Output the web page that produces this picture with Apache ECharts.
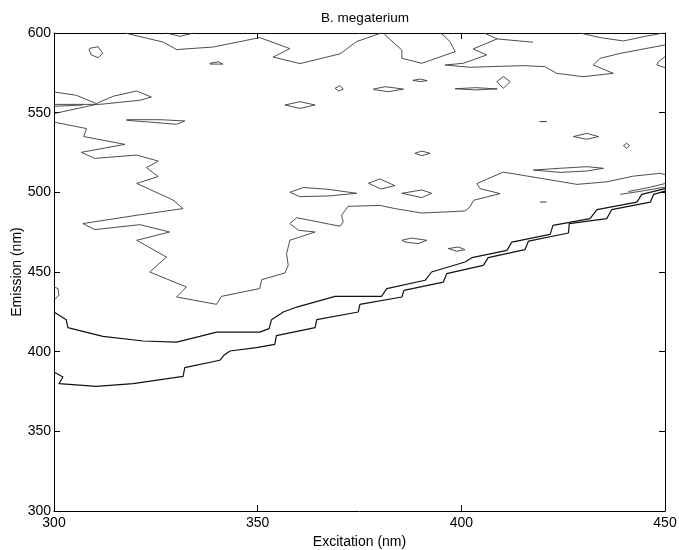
<!DOCTYPE html>
<html>
<head>
<meta charset="utf-8">
<script src="https://cdn.jsdelivr.net/npm/echarts@6/dist/echarts.min.js"></script>
<style>html,body{margin:0;padding:0;background:#fff}#c{width:679px;height:550px}</style>
</head>
<body>
<div id="c"></div>
<script>
// Axis ticks (nm)
const excitationTicks = [300, 350, 400, 450];
const emissionTicks = [300, 350, 400, 450, 500, 550, 600];

// Contour lines: [excitation nm, emission nm]
const contourA = [[300,387.2],[302.2,384.1],[301.2,379.9],[310.4,378.2],[319.4,379.9],[331.7,384.5],[332.1,390.0],[340.7,394.6],[341.7,397.7],[343.2,400.4],[349.7,402.5],[354.2,404.6],[354.6,410.1],[364.1,415.1],[364.5,420.1],[374.7,424.9],[375.1,429.7],[385.4,434.3],[385.9,438.5],[395.6,443.7],[396.4,449.0],[405.4,454.2],[406.6,459.0],[415.6,464.0],[416.5,469.4],[426.3,474.5],[426.5,480.4],[435.7,483.5],[436.9,489.1],[446.4,493.9],[447.2,498.7],[450,500.8]];
const contourB = [[300,424.9],[303.0,420.1],[303.4,415.1],[312.0,409.6],[321.9,406.7],[330.1,406.0],[335.8,409.6],[339.9,412.3],[350.5,412.3],[352.8,414.5],[353.4,420.1],[356.3,424.9],[359.6,428.0],[369.0,434.7],[380.4,434.7],[381.7,439.6],[391.1,444.8],[392.7,450.0],[400.9,456.3],[402.6,459.0],[411.2,463.6],[412.4,468.8],[421.8,473.6],[422.5,479.3],[431.6,483.5],[433.3,489.1],[443.1,493.9],[444.3,498.7],[450,502.3]];
const contourC = [[300,544.1],[308.0,540.0],[307.3,535.0],[317.4,530.1],[306.7,525.1],[310.0,521.3],[320.3,523.4],[325.6,519.6],[322.7,515.5],[325.6,509.9],[320.3,505.6],[329.2,495.2],[331.7,489.8],[320.3,485.6],[307.1,480.4],[310.0,476.6],[321.1,479.7],[328.4,475.1],[320.3,469.9],[327.6,459.4],[323.5,450.0],[332.5,440.6],[330.1,434.3],[339.9,429.7],[341.1,434.7],[350.5,439.6],[351.0,445.2],[356.7,449.4],[357.5,454.2],[357.1,461.5],[357.9,469.9],[364.1,475.1],[360.0,476.2],[357.9,480.4],[359.6,484.1],[370.2,478.7],[371.0,481.4],[370.6,485.6],[372.2,491.2],[380.0,491.8],[383.7,489.8],[390.3,487.0],[400.9,488.3],[402.1,490.8],[403.0,495.0],[409.5,499.2],[404.6,502.3],[403.8,505.5],[410.3,512.7],[420.2,508.5],[428.4,505.0],[435.7,506.6],[442.3,510.2],[448.8,511.9],[450,511.2]];
const contourD1 = [[317.4,600],[326.8,594.3],[330.1,589.6],[339.1,591.2],[350.5,597.1],[357.9,590.2],[353.8,584.9],[360.4,580.8],[370.2,586.9],[374.3,594.6],[378.4,598.3],[380.4,600]];
const contourD2 = [[381.3,600],[381.3,598.7],[385.4,589.3],[385.4,584.1],[390.3,581.0],[398.5,588.3],[397.2,594.6],[395.6,598.7],[394.8,600]];
const contourD3 = [[405.6,600],[408.8,596.3],[402.9,590.0],[406.2,586.2],[400.5,581.0],[396.0,579.9],[402.1,578.5],[409.5,579.1],[415.2,579.5],[420.5,578.9],[423.4,574.7],[429.9,572.6],[437.3,574.7],[432.4,579.9],[434.1,584.1],[439.0,587.2],[450,592.5]];
const contourD4 = [[408.8,596.3],[417.6,594.2]];
const contourD5 = [[429.2,600],[434.1,597.1],[439.8,595.0],[444.7,597.7],[449.6,600]];
const contourD6 = [[327.6,600],[330.9,597.9],[334.2,600]];
const contourD7 = [[450,585.2],[448.4,582.0],[448.0,579.9],[450,578.3]];
const contourE1 = [[300,563.0],[305.5,560.9],[310.4,555.7],[314.5,560.3],[320.3,563.6],[323.9,559.8],[321.1,557.8],[311.2,555.2],[300,555.2]];
const contourE2 = [[300,549.4],[310.4,555.2]];
const contourE3 = [[300,554.0],[307.1,554.8]];
const contourEdge = [[300,440.6],[301.0,439.6],[301.2,435.4],[300,432.2]];
const contourR1 = [[439.0,498.7],[445.6,501.3],[450,503.3]];
const contourR2 = [[441.0,500.5],[446.0,503.0],[450,505.5]];
// Small closed islands
const islands = [
  [[308.8,590.4],[310.8,591.4],[312.0,587.2],[310.8,584.5],[309.2,586.2],[308.6,589.3]],
  [[338.3,581.0],[340.3,582.0],[341.5,580.5],[338.3,580.5]],
  [[317.8,545.6],[326.0,545.6],[332.1,544.8],[330.1,542.7],[323.5,544.1],[317.8,545.2]],
  [[369.0,565.3],[370.2,567.0],[371.0,564.8],[369.9,563.6]],
  [[378.4,564.8],[381.3,566.3],[385.8,564.8],[382.1,563.2],[378.4,564.5]],
  [[356.7,554.8],[360.4,556.9],[364.1,554.8],[360.4,552.7]],
  [[388.1,570.3],[389.9,571.1],[391.6,570.1],[389.9,569.5]],
  [[398.5,565.0],[403.5,565.7],[408.8,564.9],[403.5,564.3]],
  [[408.7,569.5],[410.3,572.6],[412.0,569.5],[410.3,565.3]],
  [[388.6,524.5],[390.3,525.9],[392.3,524.5],[390.3,523.0]],
  [[357.9,500.0],[361.2,503.0],[367.3,501.9],[374.3,499.4],[367.3,497.7],[360.4,497.3]],
  [[377.2,505.7],[380.0,508.4],[383.7,504.2],[380.3,502.1]],
  [[385.4,499.4],[390.3,501.5],[392.7,499.4],[390.3,496.7]],
  [[385.4,469.9],[387.8,471.3],[391.5,469.9],[389.4,467.8],[386.2,468.8]],
  [[396.8,464.7],[399.3,465.7],[400.9,464.0],[398.9,463.0]],
  [[427.5,535.0],[430.8,537.0],[433.7,535.0],[430.8,533.3]],
  [[439.8,529.3],[440.6,530.8],[441.3,529.3],[440.6,527.6]],
  [[417.7,514.0],[424.3,515.1],[430.8,516.1],[434.9,515.1],[430.8,513.4],[424.3,512.5]]
];
const dashes = [
  [[419.2,544.4],[421.0,544.4]],
  [[419.3,493.9],[420.9,493.9]]
];

const dark = [contourA, contourB];
const mid = [contourC, contourD1, contourD2, contourD3, contourD4, contourD5, contourD6, contourD7,
  contourE1, contourE2, contourE3, contourEdge, contourR1, contourR2];

function closeLoop(pts){ return pts.concat([pts[0]]); }

const series = [];
function addLine(pts, color, width){
  series.push({type:'line', data: pts, showSymbol:false, symbol:'none', smooth:false,
    lineStyle:{color:color, width:width}, silent:true, animation:false, clip:true});
}
dark.forEach(p => addLine(p, '#111', 1.2));
mid.forEach(p => addLine(p, '#3a3a3a', 0.9));
islands.forEach(p => addLine(closeLoop(p), '#3a3a3a', 0.9));
dashes.forEach(p => addLine(p, '#3a3a3a', 1));

const font = 'Liberation Sans, Arial, Helvetica, sans-serif';
const xMin = excitationTicks[0], xMax = excitationTicks[excitationTicks.length-1];
const yMin = emissionTicks[0], yMax = emissionTicks[emissionTicks.length-1];
const xInt = excitationTicks[1]-excitationTicks[0];
const yInt = emissionTicks[1]-emissionTicks[0];

const axisLine = {show:true, onZero:false, lineStyle:{color:'#000', width:1}};
const axisTick = {show:true, inside:true, length:6, lineStyle:{color:'#000', width:1}};

const chart = echarts.init(document.getElementById('c'), null, {renderer:'canvas'});
chart.setOption({
  animation:false,
  backgroundColor:'#fff',
  title:{text:'B. megaterium', left:360, top:6, textAlign:'center',
    textStyle:{fontFamily:font, fontSize:13.5, fontWeight:'normal', color:'#000'}},
  grid:{left:54, right:14, top:33, bottom:39, containLabel:false, outerBoundsMode:'none'},
  xAxis:[
    {type:'value', min:xMin, max:xMax, interval:xInt, position:'bottom',
     name:'Excitation (nm)', nameLocation:'middle', nameGap:23,
     nameTextStyle:{fontFamily:font, fontSize:14, color:'#000'},
     axisLine:axisLine, axisTick:axisTick, splitLine:{show:false},
     axisLabel:{fontFamily:font, fontSize:14, color:'#000', margin:5}},
    {type:'value', min:xMin, max:xMax, interval:xInt, position:'top',
     axisLine:axisLine, axisTick:axisTick, splitLine:{show:false}, axisLabel:{show:false}}
  ],
  yAxis:[
    {type:'value', min:yMin, max:yMax, interval:yInt, position:'left',
     name:'Emission (nm)', nameLocation:'middle', nameGap:30, nameMoveOverlap:false,
     nameTextStyle:{fontFamily:font, fontSize:14, color:'#000'},
     axisLine:axisLine, axisTick:axisTick, splitLine:{show:false},
     axisLabel:{fontFamily:font, fontSize:14, color:'#000', margin:3}},
    {type:'value', min:yMin, max:yMax, interval:yInt, position:'right',
     axisLine:axisLine, axisTick:axisTick, splitLine:{show:false}, axisLabel:{show:false}}
  ],
  series: series
});
</script>
</body>
</html>
